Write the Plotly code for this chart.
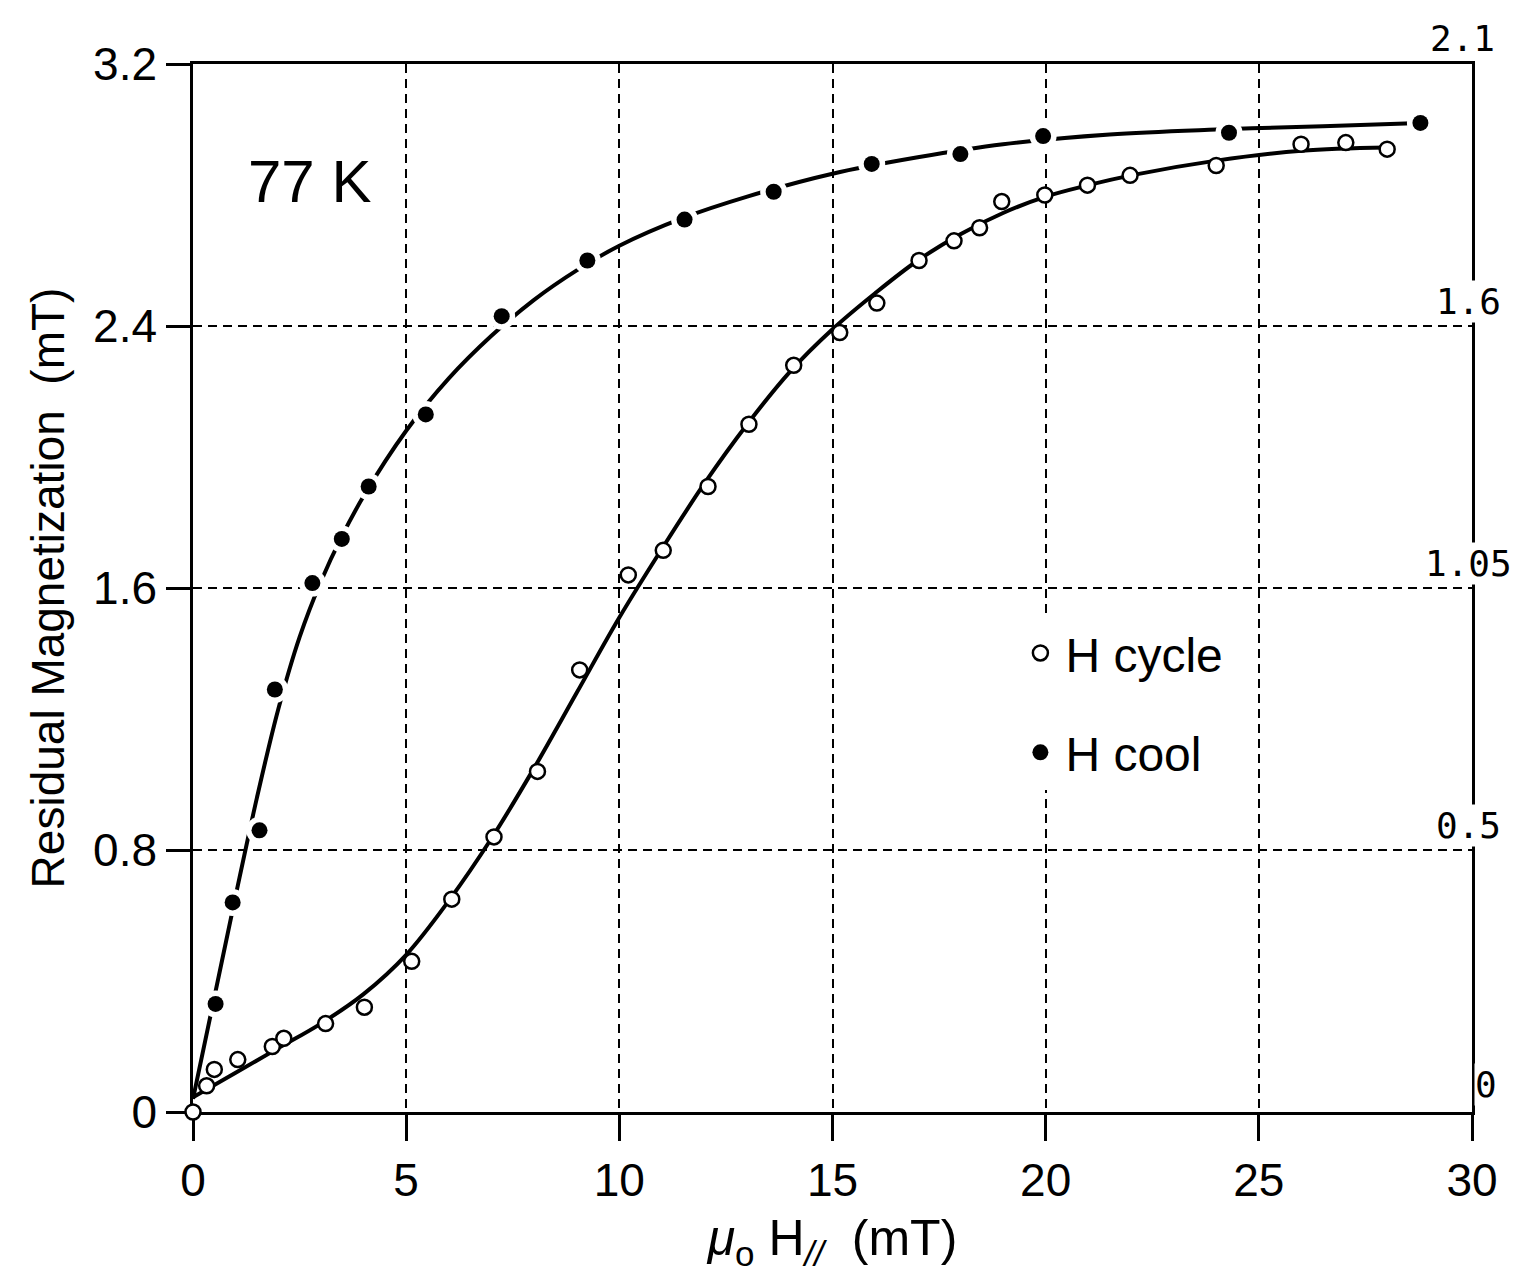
import plotly.graph_objects as go

# ---- data ----
cycle_x = [0.0, 0.32, 0.50, 1.05, 1.86, 2.13, 3.11, 4.02, 5.13, 6.07, 7.06, 8.08, 9.07, 10.21, 11.03,
           12.08, 13.04, 14.09, 15.17, 16.04, 17.03, 17.85, 18.45, 18.97, 19.98, 20.98, 21.98, 24.00,
           25.99, 27.04, 28.01]
cycle_y = [0.0, 0.08, 0.13, 0.16, 0.20, 0.225, 0.27, 0.32, 0.46, 0.65, 0.84, 1.04, 1.35, 1.64, 1.715,
           1.91, 2.10, 2.28, 2.38, 2.47, 2.60, 2.66, 2.70, 2.78, 2.80, 2.83, 2.86, 2.89,
           2.955, 2.96, 2.94]

cool_x = [0.53, 0.93, 1.56, 1.92, 2.80, 3.49, 4.12, 5.46, 7.24, 9.25, 11.53, 13.62, 15.92, 18.00,
          19.94, 24.30, 28.79]
cool_y = [0.33, 0.64, 0.86, 1.29, 1.615, 1.75, 1.91, 2.13, 2.43, 2.60, 2.725, 2.81, 2.895, 2.925,
          2.98, 2.99, 3.02]

# hand-drawn fitted curves
cycle_fit_x = [0, 1, 2, 3, 4, 5, 6, 7, 8, 9, 10, 11, 12, 13, 14, 15, 16, 17, 18, 19, 20, 21, 22,
               24, 26, 28]
cycle_fit_y = [0.045, 0.12, 0.195, 0.27, 0.36, 0.48, 0.645, 0.835, 1.05, 1.28, 1.51, 1.72, 1.92,
               2.10, 2.26, 2.39, 2.50, 2.60, 2.68, 2.745, 2.795, 2.83, 2.86, 2.905, 2.935, 2.945]

cool_fit_x = [0, 0.5, 1.0, 1.5, 2.0, 2.5, 3.0, 3.5, 4.0, 5.0, 6.0, 7.0, 8.0, 9.0, 10.0, 11.5,
              13.0, 15.0, 17.0, 19.0, 21.5, 24.0, 26.5, 28.79]
cool_fit_y = [0.04, 0.35, 0.66, 0.96, 1.23, 1.45, 1.62, 1.76, 1.88, 2.08, 2.24, 2.37, 2.48, 2.57,
              2.645, 2.73, 2.795, 2.865, 2.915, 2.955, 2.985, 3.0, 3.01, 3.02]

x_tickvals = [0, 5, 10, 15, 20, 25, 30]
y_tickvals = [0, 0.8, 1.6, 2.4, 3.2]
y_ticktext = ["0", "0.8", "1.6", "2.4", "3.2"]
right_tickvals = [0, 0.8, 1.6, 2.4, 3.2]
right_ticktext = ["0", "0.5", "1.05", "1.6", "2.1"]

FONT = "Liberation Sans, Arial, sans-serif"

fig = go.Figure()

# fitted curves
fig.add_trace(go.Scatter(x=cycle_fit_x, y=cycle_fit_y, mode="lines",
                         line=dict(color="black", width=4, shape="spline", smoothing=1.0),
                         showlegend=False, hoverinfo="skip"))
fig.add_trace(go.Scatter(x=cool_fit_x, y=cool_fit_y, mode="lines",
                         line=dict(color="black", width=4, shape="spline", smoothing=1.0),
                         showlegend=False, hoverinfo="skip"))

# H cycle data (open circles)
fig.add_trace(go.Scatter(x=cycle_x, y=cycle_y, mode="markers", name="H cycle",
                         marker=dict(symbol="circle", size=15, color="white",
                                     line=dict(color="black", width=2.5)),
                         cliponaxis=False, legendgroup="a"))

# white halo around H cool dots (breaks the curve like the original)
fig.add_trace(go.Scatter(x=cool_x, y=cool_y, mode="markers",
                         marker=dict(symbol="circle", size=27, color="white", line=dict(width=0)),
                         showlegend=False, hoverinfo="skip", cliponaxis=False))
fig.add_trace(go.Scatter(x=cool_x, y=cool_y, mode="markers", name="H cool",
                         marker=dict(symbol="circle", size=16, color="black", line=dict(width=0)),
                         cliponaxis=False, legendgroup="b"))

annotations = []
# right-hand scale labels
right_shift = {"0": (14, 6), "2.1": (-10, 4)}
for v, t in zip(right_tickvals, right_ticktext):
    xs, ys = right_shift.get(t, (-4, 3))
    annotations.append(dict(x=30, y=v, xref="x", yref="y", text=t, showarrow=False,
                            xanchor="center", yanchor="bottom", xshift=xs, yshift=ys,
                            bgcolor="white", borderpad=0,
                            font=dict(family="DejaVu Sans Mono, monospace", size=36, color="black")))
annotations.append(dict(x=2.74, y=2.84, xref="x", yref="y", text="77 K", showarrow=False,
                        xanchor="center", yanchor="middle",
                        font=dict(family=FONT, size=60, color="black")))

fig.update_layout(
    width=1515, height=1282,
    margin=dict(l=193, r=43, t=64, b=170),
    paper_bgcolor="white", plot_bgcolor="white",
    font=dict(family=FONT, color="black"),
    annotations=annotations,
    legend=dict(x=0.643, y=0.474, xanchor="left", yanchor="top", bgcolor="white",
                font=dict(family=FONT, size=48, color="black"),
                traceorder="grouped", tracegroupgap=34, itemsizing="trace", itemwidth=40),
    xaxis=dict(range=[0, 30], tickvals=x_tickvals, showline=True, linecolor="black", linewidth=2.5,
               mirror=True, ticks="outside", ticklen=26, tickwidth=2.5, tickcolor="black",
               showgrid=True, gridcolor="black", gridwidth=2, griddash="9px,6px", zeroline=False,
               tickfont=dict(family=FONT, size=46, color="black"), layer="below traces",
               title=dict(text="<i>μ</i><sub>o</sub> H<sub><i>//</i></sub>  (mT)",
                          font=dict(family=FONT, size=50, color="black"), standoff=16)),
    yaxis=dict(range=[0, 3.2], tickvals=y_tickvals, ticktext=y_ticktext, showline=True,
               linecolor="black", linewidth=2.5, mirror=True, ticks="outside", ticklen=24,
               tickwidth=2.5, tickcolor="black", showgrid=True, gridcolor="black", gridwidth=2,
               griddash="9px,6px", zeroline=False,
               tickfont=dict(family=FONT, size=46, color="black"), layer="below traces",
               title=dict(text="Residual Magnetization  (mT)",
                          font=dict(family=FONT, size=46, color="black"), standoff=14)),
)

fig.write_html("out.html")
